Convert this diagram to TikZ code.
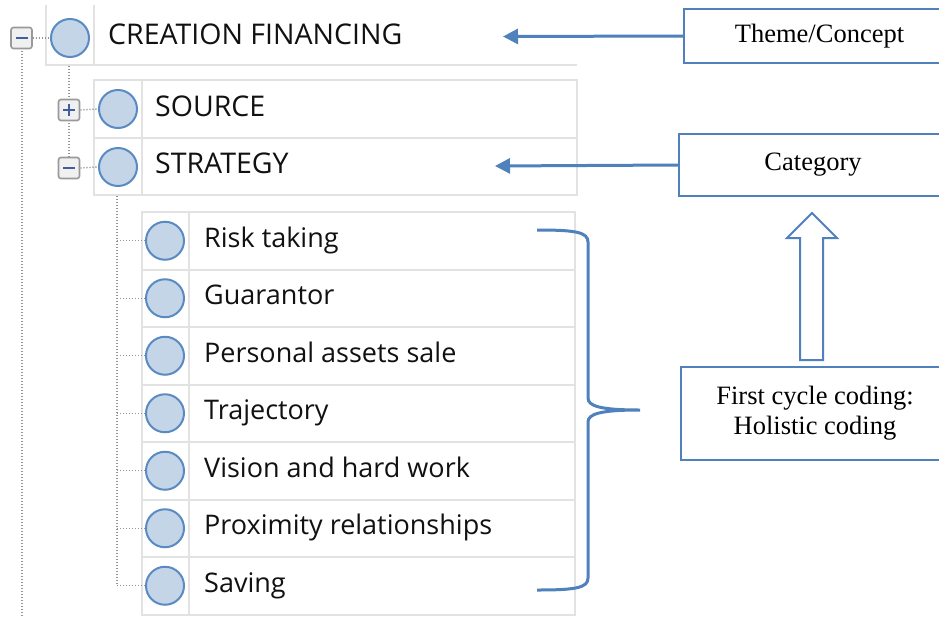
\documentclass[tikz,border=0pt]{standalone}
\usepackage{fontspec}
\setmainfont{Liberation Serif}
\newfontfamily\uifont{Open Sans}
\usetikzlibrary{arrows.meta,calc}
\definecolor{rowgray}{HTML}{E2E2E2}
\definecolor{circfill}{HTML}{C5D5E8}
\definecolor{circline}{HTML}{5A8AC2}
\definecolor{annblue}{HTML}{4F81BD}
\definecolor{dotgray}{HTML}{949494}
\definecolor{signblue}{HTML}{3F5FA0}
\definecolor{uitext}{HTML}{111111}
\tikzset{
 rowline/.style={draw=rowgray, line width=2pt},
 codecirc/.style={circle, draw=circline, fill=circfill, line width=2pt, minimum size=38pt, inner sep=0pt},
 uilabel/.style={font=\uifont\fontsize{27}{32}\selectfont, text=uitext, anchor=base west, inner sep=0pt},
 capslabel/.style={uilabel, font=\uifont\fontsize{28.5}{32}\selectfont},
 treeline/.style={draw=dotgray, line width=1.3pt, dash pattern=on 1.3pt off 1.7pt},
 expbox/.style={draw=gray!80, fill=gray!12, line width=1.6pt, rounded corners=2.5pt, minimum size=21pt, inner sep=0pt},
 signline/.style={draw=signblue, line width=2pt},
 annbox/.style={draw=annblue, line width=2pt, fill=white, font=\fontsize{26.5}{30}\selectfont, align=center, inner sep=0pt},
 annarrow/.style={draw=annblue, line width=3pt, -{Triangle[length=15pt,width=15pt]}},
 bracestyle/.style={draw=annblue, line width=3pt},
}
\begin{document}
\begin{tikzpicture}[x=1pt,y=-1pt]
\clip (0,0) rectangle (939,616);
\fill[white] (0,0) rectangle (939,616);

% ---------- tree: row frames ----------
\draw[rowline] (46,5) -- (46,65) -- (577,65);
\draw[rowline] (94,5) -- (94,65);
\draw[rowline] (94,80) rectangle (577,138);
\draw[rowline] (94,138) rectangle (577,195);
\draw[rowline] (142,80) -- (142,195);
\foreach \i in {0,...,6}{
  \draw[rowline] (142,212+57.5*\i) rectangle (575,269.5+57.5*\i);
  \draw[rowline] (189,212+57.5*\i) -- (189,269.5+57.5*\i);
}

% ---------- tree: dotted connectors ----------
\coordinate (leftend) at (22,620);
\coordinate (midtop) at (69,66);
\coordinate (childtop) at (117,196);
\draw[treeline] (22,48) -- (leftend);
\draw[treeline] (midtop) -- (69,160);

% ---------- tree: nodes ----------
\node[expbox] (ex0) at (21.5,38) {};
\node[codecirc] (c0) at (70,38) {};
\node[capslabel] (t0) at (108,44) {CREATION FINANCING};

\node[expbox] (ex1) at (69,110) {};
\node[codecirc] (c1) at (118,109) {};
\node[capslabel] (t1) at (155,116) {SOURCE};

\node[expbox] (ex2) at (69,168) {};
\node[codecirc] (c2) at (118,167) {};
\node[capslabel] (t2) at (155,173) {STRATEGY};

\draw[signline] ($(ex0.center)+(-6,0)$) -- ($(ex0.center)+(6,0)$);
\draw[signline] ($(ex1.center)+(-6,0)$) -- ($(ex1.center)+(6,0)$);
\draw[signline] ($(ex1.center)+(0,-6)$) -- ($(ex1.center)+(0,6)$);
\draw[signline] ($(ex2.center)+(-6,0)$) -- ($(ex2.center)+(6,0)$);

\draw[treeline] (ex0.east) -- (c0.west);
\draw[treeline] (ex1.east) -- (c1.west);
\draw[treeline] (ex2.east) -- (c2.west);

\foreach \txt [count=\k from 0] in {Risk taking,Guarantor,Personal assets sale,Trajectory,Vision and hard work,Proximity relationships,Saving}{
  \node[codecirc] (s\k) at (165,240.75+57.5*\k) {};
  \node[uilabel] (st\k) at (204,247+57.5*\k) {\txt};
  \coordinate (sj\k) at (117,240.75+57.5*\k);
  \draw[treeline] (sj\k) -- (s\k.west);
}
\draw[treeline] (childtop) -- (sj6);

% ---------- annotations ----------
\node[annbox, minimum width=271pt, minimum height=54pt] (theme) at (819.5,36) {Theme/Concept};
\node[annbox, minimum width=268pt, minimum height=62pt] (cat) at (813,165) {Category};
\node[annbox, minimum width=268pt, minimum height=93pt] (cycle) at (815,413.5) {First cycle coding:\\Holistic coding};

\coordinate (themetip) at (503,36.5);
\coordinate (cattip) at (495,166);
\draw[annarrow] (theme.west) -- (themetip);
\draw[annarrow] (cat.west) -- (cattip);

% hollow up arrow
\draw[draw=annblue, line width=2pt, fill=white, line join=miter]
  (812,213) -- (837,238) -- (823,238) -- (823,360) -- (800,360) -- (800,238) -- (787,238) -- cycle;

% brace
\draw[bracestyle] (537,230) .. controls (575,230) and (588,232) .. (588,242)
  -- (588,398) .. controls (588,406) and (600,410) .. (640,410)
  .. controls (600,410) and (588,414) .. (588,422)
  -- (588,578) .. controls (588,588) and (575,590) .. (537,590);
\end{tikzpicture}
\end{document}
